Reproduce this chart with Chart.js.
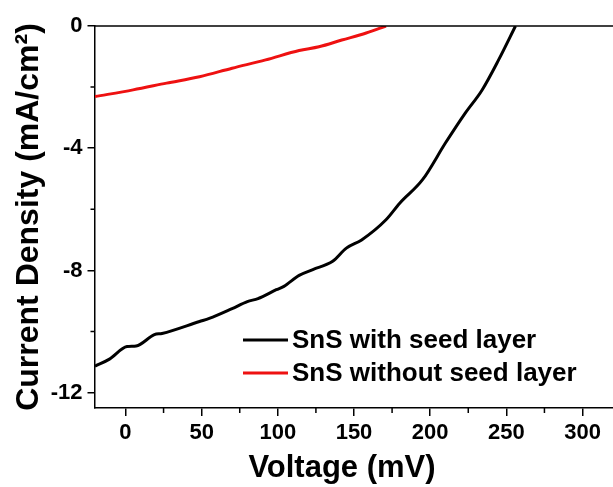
<!DOCTYPE html>
<html>
<head>
<meta charset="utf-8">
<script src="https://cdn.jsdelivr.net/npm/chart.js@4/dist/chart.umd.min.js"></script>
<style>
  html, body { margin: 0; padding: 0; background: #fff; }
  #wrap { width: 613px; height: 487px; }
</style>
</head>
<body>
<div id="wrap"><canvas id="myChart" width="613" height="487"></canvas></div>
<script>
// SnS with seed layer (black)
const seedV = [-20, -10.5, 1, 7, 19, 24, 48.6, 55, 70, 80, 87, 99, 104, 114, 123, 136, 145, 155, 171, 180, 195, 210, 223, 234, 245, 256];
const seedJ = [-11.13, -10.9, -10.49, -10.47, -10.1, -10.06, -9.67, -9.57, -9.25, -9.02, -8.92, -8.63, -8.52, -8.16, -7.97, -7.7, -7.27, -7.0, -6.34, -5.8, -5.03, -3.83, -2.85, -2.1, -1.1, 0];
// SnS without seed layer (red)
const bareV = [-20, 5, 27, 48.6, 70, 92, 114, 127, 142, 158, 171];
const bareJ = [-2.31, -2.09, -1.87, -1.66, -1.38, -1.11, -0.8, -0.68, -0.46, -0.23, 0];

const xMajor = [0, 50, 100, 150, 200, 250, 300];
const xMinor = [25, 75, 125, 175, 225, 275];
const yMajor = [0, -4, -8, -12];
const yMinor = [-2, -6, -10];
const legendNames = ['SnS with seed layer', 'SnS without seed layer'];

const pts = (xs, ys) => xs.map((x, i) => ({ x: x, y: ys[i] }));
const FONT = "'Liberation Sans', Arial, sans-serif";

const extras = {
  id: 'extras',
  afterDraw(chart) {
    const ctx = chart.ctx;
    const a = chart.chartArea;
    const xs = chart.scales.x, ys = chart.scales.y;
    ctx.save();
    ctx.strokeStyle = '#000';
    ctx.lineWidth = 1.5;
    // top frame line
    ctx.beginPath();
    ctx.moveTo(a.left, a.top);
    ctx.lineTo(a.right, a.top);
    ctx.stroke();
    // minor ticks
    ctx.beginPath();
    xMinor.forEach(v => {
      const px = xs.getPixelForValue(v);
      ctx.moveTo(px, a.bottom);
      ctx.lineTo(px, a.bottom + 5);
    });
    yMinor.forEach(v => {
      const py = ys.getPixelForValue(v);
      ctx.moveTo(a.left, py);
      ctx.lineTo(a.left - 4.5, py);
    });
    ctx.stroke();
    // legend
    const colors = ['#000000', '#ee1111'];
    const rows = [340, 373];
    ctx.font = 'bold 26px ' + FONT;
    ctx.textBaseline = 'middle';
    ctx.fillStyle = '#000';
    legendNames.forEach((name, i) => {
      ctx.strokeStyle = colors[i];
      ctx.lineWidth = 3;
      ctx.beginPath();
      ctx.moveTo(243, rows[i]);
      ctx.lineTo(288, rows[i]);
      ctx.stroke();
      ctx.fillText(name, 292, rows[i] + 1);
    });
    // x axis title
    ctx.font = 'bold 31px ' + FONT;
    ctx.textAlign = 'center';
    ctx.fillText('Voltage (mV)', 342, 468);
    ctx.restore();
  }
};

const ctx = document.getElementById('myChart').getContext('2d');
new Chart(ctx, {
  type: 'scatter',
  data: {
    datasets: [
      {
        label: legendNames[0],
        data: pts(seedV, seedJ),
        showLine: true,
        borderColor: '#000000',
        borderWidth: 3,
        pointRadius: 0,
        cubicInterpolationMode: 'monotone'
      },
      {
        label: legendNames[1],
        data: pts(bareV, bareJ),
        showLine: true,
        borderColor: '#ee1111',
        borderWidth: 3,
        pointRadius: 0,
        cubicInterpolationMode: 'monotone'
      }
    ]
  },
  options: {
    responsive: false,
    animation: false,
    layout: { padding: { top: 26, right: 0, left: 0, bottom: 0 } },
    plugins: { legend: { display: false }, tooltip: { enabled: false } },
    scales: {
      x: {
        type: 'linear',
        min: -20,
        max: 320,
        afterBuildTicks: s => { s.ticks = xMajor.map(v => ({ value: v })); },
        afterFit: s => { s.height = 79; },
        grid: { drawOnChartArea: false, tickLength: 8, color: '#000', lineWidth: 1.5 },
        border: { display: true, color: '#000', width: 1.5 },
        ticks: { color: '#000', font: { family: FONT, size: 22, weight: 'bold' }, padding: 4, maxRotation: 0 }
      },
      y: {
        type: 'linear',
        min: -12.5,
        max: 0,
        afterBuildTicks: s => { s.ticks = yMajor.map(v => ({ value: v })); },
        afterFit: s => { s.width = 95; },
        grid: { drawOnChartArea: false, tickLength: 7.5, color: '#000', lineWidth: 1.5 },
        border: { display: true, color: '#000', width: 1.5 },
        ticks: { color: '#000', font: { family: FONT, size: 22, weight: 'bold' }, padding: 5 },
        title: {
          display: true,
          text: 'Current Density (mA/cm²)',
          color: '#000',
          font: { family: FONT, size: 32, weight: 'bold' },
          padding: { top: 10, bottom: 0 }
        }
      }
    }
  },
  plugins: [extras]
});
</script>
</body>
</html>
